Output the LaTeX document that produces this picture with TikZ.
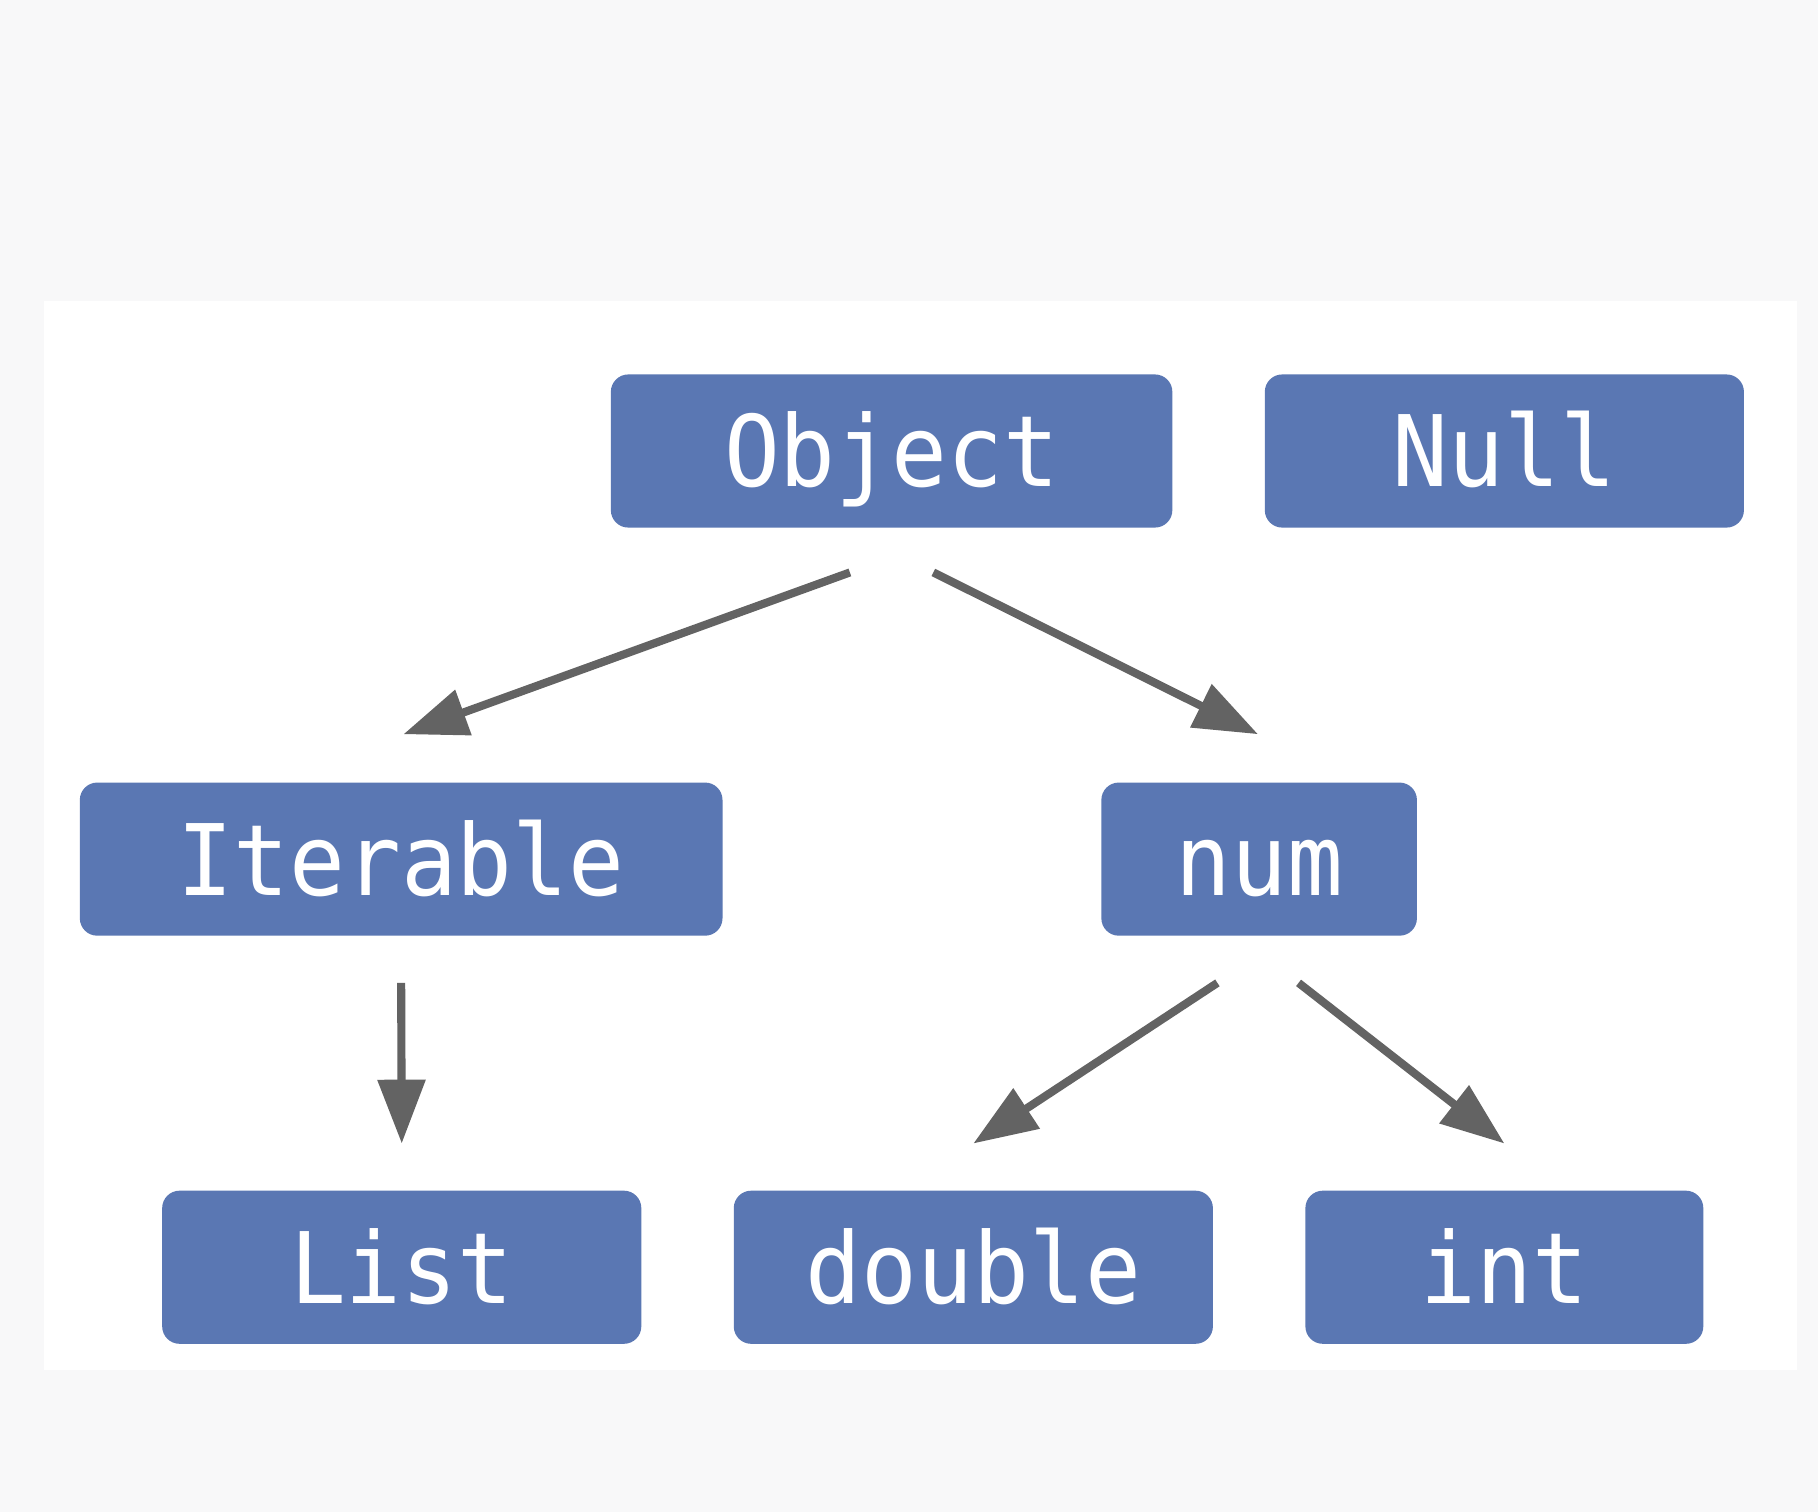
\documentclass[tikz,border=0pt]{standalone}
\usepackage{fontspec}
\setmonofont[FakeStretch=0.94]{DejaVu Sans Mono}
\usepackage{tikz}
\usetikzlibrary{arrows.meta}
\definecolor{boxblue}{HTML}{5A77B3}
\definecolor{arrowgray}{HTML}{636363}
\definecolor{pagegray}{HTML}{F8F8F9}

\begin{document}
\begin{tikzpicture}[x=0.01cm, y=-0.01cm]
\tikzstyle{typebox}=[rectangle, fill=boxblue, rounded corners=0.15cm, minimum height=1.32cm, inner sep=0pt, text=white, font=\ttfamily\fontsize{24.2}{28}\selectfont, text height=0.62cm, text depth=0pt]
\tikzstyle{arrow}=[draw=arrowgray, line width=0.07cm, -{Triangle[length=0.55cm, width=0.40cm]}]

\fill[pagegray] (0,0) rectangle (1568,1304);
\fill[white] (38,260) rectangle (1550,1182);

\node[typebox, minimum width=4.84cm] (obj) at (769,389) {Object};
\node[typebox, minimum width=4.13cm] (null) at (1297.5,389) {Null};
\node[typebox, minimum width=5.54cm] (itr) at (346,741) {Iterable};
\node[typebox, minimum width=2.72cm] (num) at (1086,741) {num};
\node[typebox, minimum width=4.13cm] (lst) at (346.5,1093) {List};
\node[typebox, minimum width=4.13cm] (dbl) at (839.5,1093) {double};
\node[typebox, minimum width=3.43cm] (int) at (1297.5,1093) {int};

\path
([shift={(-36,38)}]obj.south) edge[arrow] ([shift={(2,-41)}]itr.north)
([shift={(36,38)}]obj.south) edge[arrow] ([shift={(-1,-41)}]num.north)
([shift={(0,40)}]itr.south) edge[arrow] ([shift={(0,-40)}]lst.north)
([shift={(-36,40)}]num.south) edge[arrow] ([shift={(0,-40)}]dbl.north)
([shift={(34,40)}]num.south) edge[arrow] ([shift={(0,-40)}]int.north);

\end{tikzpicture}
\end{document}
